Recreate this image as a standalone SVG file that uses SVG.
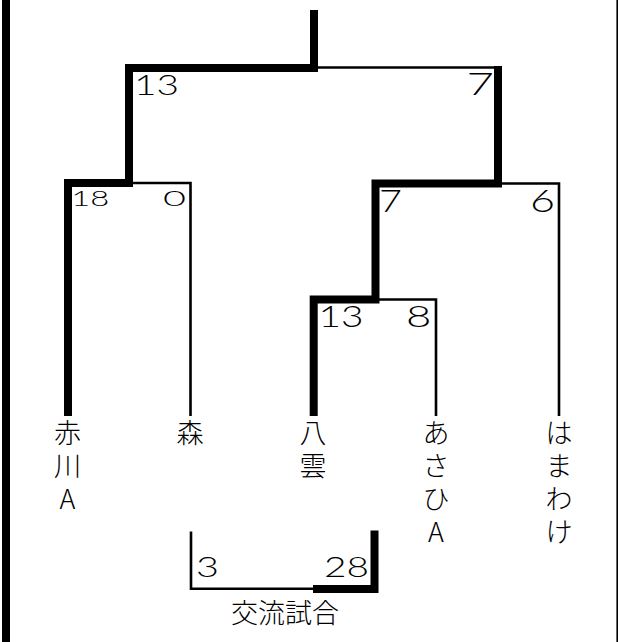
<svg xmlns="http://www.w3.org/2000/svg" width="618" height="642" viewBox="0 0 618 642">
<style>
.thick{fill:none;stroke:#000;stroke-width:8;stroke-linejoin:miter;stroke-linecap:butt}
.thin{fill:none;stroke:#000;stroke-width:2.6;stroke-linejoin:miter;stroke-linecap:butt}
.jp{font-family:"Noto Sans CJK JP","Noto Sans",sans-serif;font-size:27px;font-weight:300;fill:#000;text-anchor:middle}
.num{font-family:Lato,"Liberation Sans",sans-serif;font-weight:300;fill:#000}
</style>
<rect width="618" height="642" fill="#fff"/>
<g id="frame">
<line x1="6" y1="0" x2="6" y2="642" class="thick"/>
<line x1="617.2" y1="0" x2="617.2" y2="642" class="thin" style="stroke-width:1.6"/>
</g>
<g id="connectors">
<path class="thin" d="M318,67.5 H498"/>
<path class="thin" d="M190.5,416 V183 H133"/>
<path class="thin" d="M559,416 V183.5 H502"/>
<path class="thin" d="M436,416 V299.5 H379"/>
<path class="thin" d="M191,531.5 V588.7 H313"/>
<path class="thick" d="M68,416 V183 H129 V68 H314 V10"/>
<path class="thick" d="M313.7,416 V299.5 H375.5 V183.5 H498 V66"/>
<path class="thick" d="M313,589 H374.5 V530.5"/>
</g>
<g id="scores">
<text class="num" x="134" y="95" font-size="28" textLength="45" lengthAdjust="spacingAndGlyphs">13</text>
<text class="num" x="466.5" y="95" font-size="31" textLength="27.5" lengthAdjust="spacingAndGlyphs">7</text>
<text class="num" x="71.3" y="206" font-size="22" textLength="38" lengthAdjust="spacingAndGlyphs">18</text>
<text class="num" x="163" y="206" font-size="22" textLength="23" lengthAdjust="spacingAndGlyphs">0</text>
<text class="num" x="379" y="212" font-size="32" textLength="23" lengthAdjust="spacingAndGlyphs">7</text>
<text class="num" x="530" y="212" font-size="32" textLength="25" lengthAdjust="spacingAndGlyphs">6</text>
<text class="num" x="318.6" y="327" font-size="30" textLength="45" lengthAdjust="spacingAndGlyphs">13</text>
<text class="num" x="406" y="327" font-size="30" textLength="25.4" lengthAdjust="spacingAndGlyphs">8</text>
<text class="num" x="196" y="577" font-size="28" textLength="23" lengthAdjust="spacingAndGlyphs">3</text>
<text class="num" x="324" y="577" font-size="28" textLength="45" lengthAdjust="spacingAndGlyphs">28</text>
</g>
<g id="team-akagawa-a">
<text class="jp" x="67.5" y="443">赤<tspan x="67.5" dy="33">川</tspan><tspan x="67.5" dy="33">A</tspan></text>
</g>
<g id="team-mori">
<text class="jp" x="190" y="443">森</text>
</g>
<g id="team-yakumo">
<text class="jp" x="313" y="443">八<tspan x="313" dy="33">雲</tspan></text>
</g>
<g id="team-asahi-a">
<text class="jp" x="436" y="443">あ<tspan x="436" dy="33">さ</tspan><tspan x="436" dy="33">ひ</tspan><tspan x="436" dy="33">A</tspan></text>
</g>
<g id="team-hamawake">
<text class="jp" x="559" y="443">は<tspan x="559" dy="33">ま</tspan><tspan x="559" dy="33">わ</tspan><tspan x="559" dy="33">け</tspan></text>
</g>
<g id="exhibition">
<text class="jp" x="285" y="623">交流試合</text>
</g>
</svg>
